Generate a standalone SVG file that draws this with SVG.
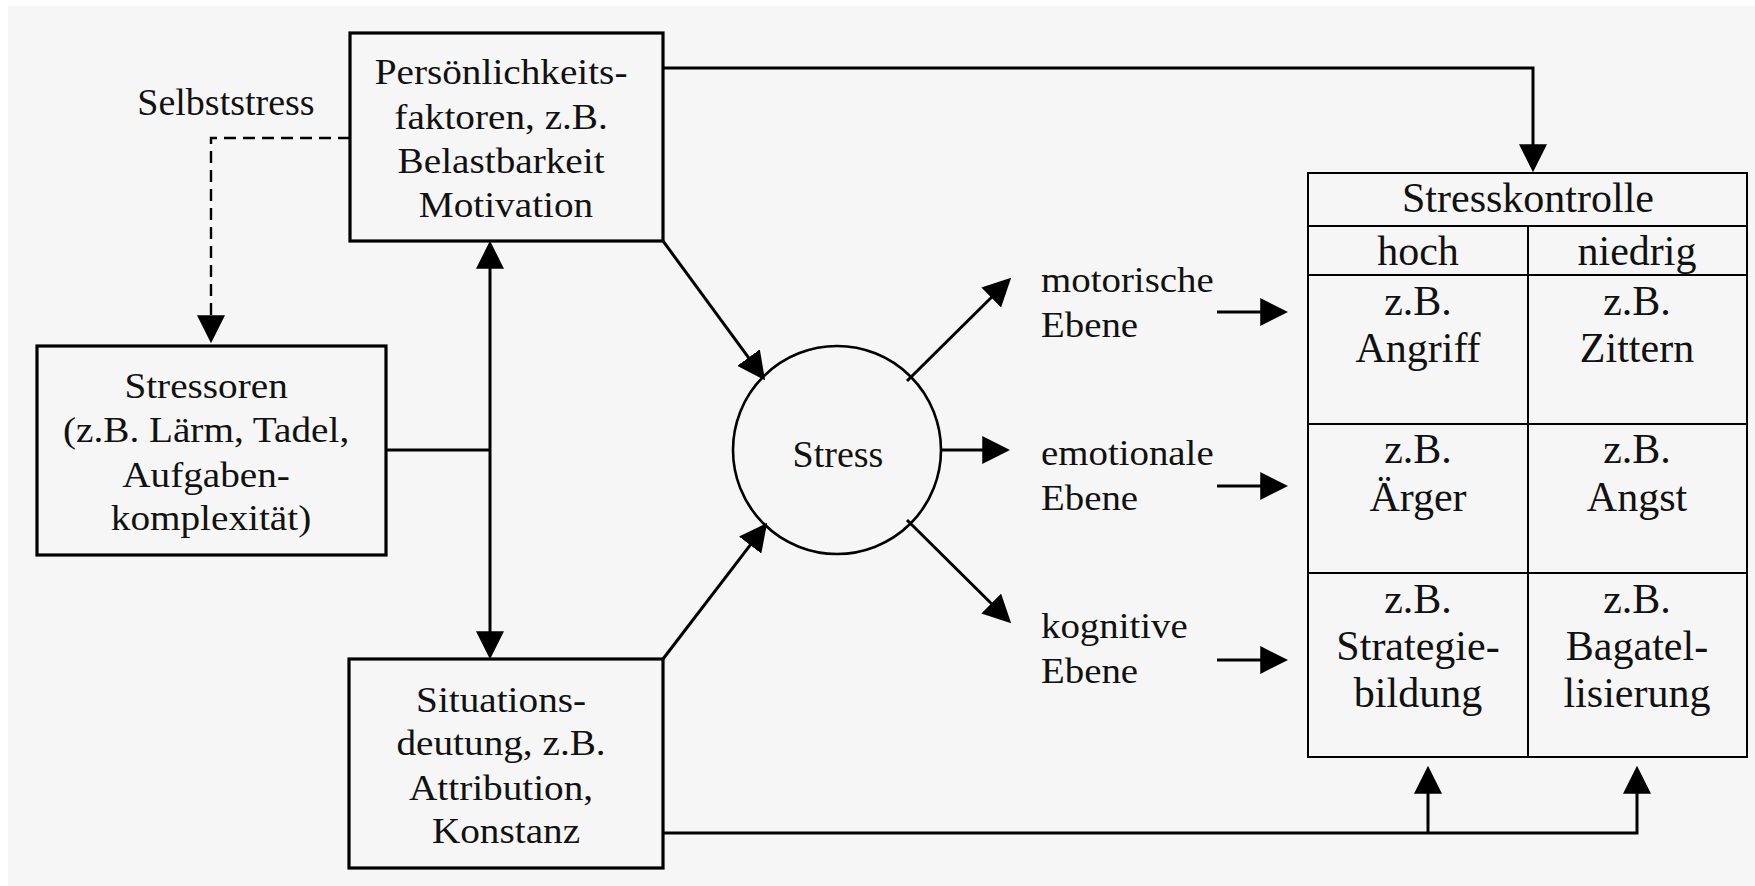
<svg xmlns="http://www.w3.org/2000/svg" width="1755" height="886" viewBox="0 0 1755 886">
<style>
  text { font-family: "Liberation Serif", "Times New Roman", serif; fill: #111; }
  .lbl { font-size: 36px; text-anchor: middle; transform-box: fill-box; transform-origin: center; transform: scaleX(1.09); }
  .tbl { font-size: 42px; text-anchor: middle; }
  .lvl { font-size: 36px; text-anchor: start; transform-box: fill-box; transform-origin: left center; transform: scaleX(1.08); }
  .box { fill: none; stroke: #000; stroke-width: 3.2; }
  .grid { fill: none; stroke: #000; stroke-width: 2; }
  .con { fill: none; stroke: #000; stroke-width: 3; }
  .dash { fill: none; stroke: #000; stroke-width: 2.4; stroke-dasharray: 12 7; }
</style>
<defs>
  <marker id="ah" markerUnits="userSpaceOnUse" markerWidth="28" markerHeight="28" viewBox="0 0 27 27" refX="21" refY="13.5" orient="auto-start-reverse">
    <path d="M0,0 L27,13.5 L0,27 Z" fill="#000"/>
  </marker>
</defs>
<rect x="8" y="6" width="1747" height="880" fill="#f6f6f6"/>

<g id="connectors">
  <path class="dash" d="M350,138 H211 V337" marker-end="url(#ah)"/>
  <line class="con" x1="490" y1="247" x2="490" y2="653" marker-start="url(#ah)" marker-end="url(#ah)"/>
  <line class="con" x1="386" y1="450" x2="490" y2="450"/>
  <path class="con" d="M663,68 H1533 V166" marker-end="url(#ah)"/>
  <line class="con" x1="663" y1="241" x2="761.4" y2="375.2" marker-end="url(#ah)"/>
  <line class="con" x1="663" y1="659" x2="763.4" y2="527.8" marker-end="url(#ah)"/>
  <line class="con" x1="907" y1="381" x2="1006.7" y2="282.2" marker-end="url(#ah)"/>
  <line class="con" x1="940" y1="450" x2="1004" y2="450" marker-end="url(#ah)"/>
  <line class="con" x1="907" y1="520" x2="1006.7" y2="618.8" marker-end="url(#ah)"/>
  <line class="con" x1="1217" y1="312" x2="1282" y2="312" marker-end="url(#ah)"/>
  <line class="con" x1="1217" y1="486" x2="1282" y2="486" marker-end="url(#ah)"/>
  <line class="con" x1="1217" y1="660" x2="1282" y2="660" marker-end="url(#ah)"/>
  <path class="con" d="M663,833 H1637 V772" marker-end="url(#ah)"/>
  <path class="con" d="M1428,833 V772" marker-end="url(#ah)"/>
</g>

<g id="selbststress-label">
  <text x="226" y="115" style="font-size:38px;text-anchor:middle">Selbststress</text>
</g>

<g id="persoenlichkeit">
  <rect class="box" x="350" y="33" width="313" height="208"/>
  <text class="lbl">
    <tspan x="506" y="84">Persönlichkeits-</tspan>
    <tspan x="506" y="129">faktoren, z.B.</tspan>
    <tspan x="506" y="173">Belastbarkeit</tspan>
    <tspan x="506" y="217">Motivation</tspan>
  </text>
</g>

<g id="stressoren">
  <rect class="box" x="37" y="346" width="349" height="209"/>
  <text class="lbl">
    <tspan x="211" y="398">Stressoren</tspan>
    <tspan x="211" y="442">(z.B. Lärm, Tadel,</tspan>
    <tspan x="211" y="487">Aufgaben-</tspan>
    <tspan x="211" y="530">komplexität)</tspan>
  </text>
</g>

<g id="situationsdeutung">
  <rect class="box" x="349" y="659" width="314" height="209"/>
  <text class="lbl">
    <tspan x="506" y="712">Situations-</tspan>
    <tspan x="506" y="755">deutung, z.B.</tspan>
    <tspan x="506" y="800">Attribution,</tspan>
    <tspan x="506" y="843">Konstanz</tspan>
  </text>
</g>

<g id="stress">
  <circle cx="837" cy="450" r="104" fill="none" stroke="#000" stroke-width="2.6"/>
  <text x="838" y="467" style="font-size:38px;text-anchor:middle">Stress</text>
</g>

<g id="ebenen">
  <text class="lvl"><tspan x="1041" y="292">motorische</tspan><tspan x="1041" y="337">Ebene</tspan></text>
  <text class="lvl"><tspan x="1041" y="465">emotionale</tspan><tspan x="1041" y="510">Ebene</tspan></text>
  <text class="lvl"><tspan x="1041" y="638">kognitive</tspan><tspan x="1041" y="683">Ebene</tspan></text>
</g>

<g id="stresskontrolle">
  <rect class="grid" x="1308" y="173" width="439" height="584"/>
  <line class="grid" x1="1308" y1="226" x2="1747" y2="226"/>
  <line class="grid" x1="1308" y1="275" x2="1747" y2="275"/>
  <line class="grid" x1="1308" y1="424" x2="1747" y2="424"/>
  <line class="grid" x1="1308" y1="573" x2="1747" y2="573"/>
  <line class="grid" x1="1528" y1="226" x2="1528" y2="757"/>
  <text class="tbl" x="1528" y="212">Stresskontrolle</text>
  <text class="tbl" x="1418" y="265">hoch</text>
  <text class="tbl" x="1637" y="265">niedrig</text>
  <text class="tbl"><tspan x="1418" y="315">z.B.</tspan><tspan x="1418" y="362">Angriff</tspan></text>
  <text class="tbl"><tspan x="1637" y="315">z.B.</tspan><tspan x="1637" y="362">Zittern</tspan></text>
  <text class="tbl"><tspan x="1418" y="463">z.B.</tspan><tspan x="1418" y="511">Ärger</tspan></text>
  <text class="tbl"><tspan x="1637" y="463">z.B.</tspan><tspan x="1637" y="511">Angst</tspan></text>
  <text class="tbl"><tspan x="1418" y="613">z.B.</tspan><tspan x="1418" y="660">Strategie-</tspan><tspan x="1418" y="707">bildung</tspan></text>
  <text class="tbl"><tspan x="1637" y="613">z.B.</tspan><tspan x="1637" y="660">Bagatel-</tspan><tspan x="1637" y="707">lisierung</tspan></text>
</g>
</svg>
